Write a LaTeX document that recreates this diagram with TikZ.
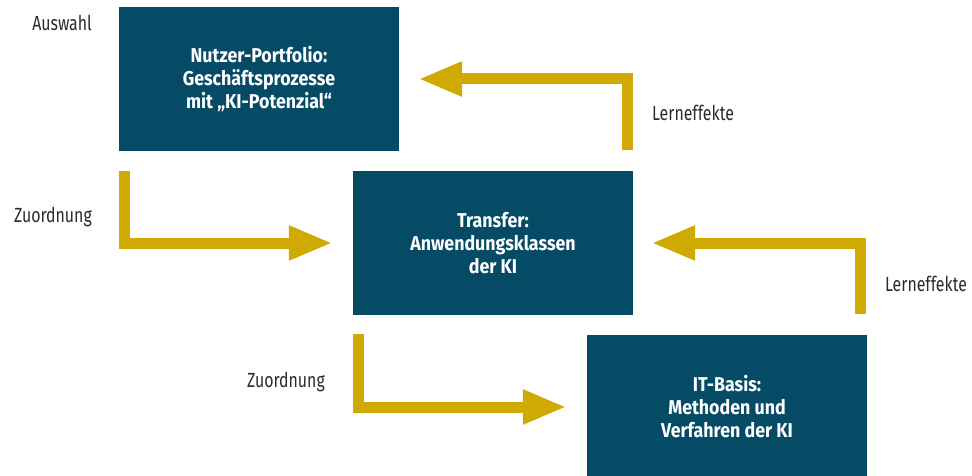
\documentclass[tikz,border=0pt]{standalone}
\usepackage{fontspec}
\setmainfont{Fira Sans}[FakeStretch=0.89]
\newfontfamily\lblfont{Fira Sans}[FakeStretch=0.775]
\usetikzlibrary{arrows.meta,calc}
\definecolor{boxblue}{HTML}{064B66}
\definecolor{gold}{HTML}{CFAA03}
\definecolor{labelgray}{HTML}{2B2B2B}
\tikzset{
  kbox/.style={fill=boxblue, text=white, minimum width=280pt, minimum height=144pt,
    inner sep=0pt, align=center, font=\fontsize{20pt}{23pt}\selectfont\bfseries},
  garrow/.style={draw=gold, line width=11pt, line join=miter,
    -{Triangle[length=44pt,width=32pt]}},
  lbl/.style={text=labelgray, inner sep=0pt, font=\lblfont\fontsize{20.5pt}{24pt}\selectfont}
}
\begin{document}
\begin{tikzpicture}[x=1pt,y=-1pt]
\useasboundingbox (0,0) rectangle (972,476);
\node[kbox] (b1) at (259,79) {Nutzer-Portfolio:\\Geschäftsprozesse\\mit „KI-Potenzial“};
\node[kbox] (b2) at (493,243) {Transfer:\\Anwendungsklassen\\der KI};
\node[kbox] (b3) at (727,407) {IT-Basis:\\Methoden und\\Verfahren der KI};

\coordinate (s1) at ($(b1.south west)+(5.5,20)$);
\coordinate (t1) at ($(b2.west)+(-20,0)$);
\coordinate (s2) at ($(b2.north east)+(-5.5,-21)$);
\coordinate (t2) at ($(b1.east)+(19,0)$);
\coordinate (s3) at ($(b3.north east)+(-6.5,-21)$);
\coordinate (t3) at ($(b2.east)+(18,0)$);
\coordinate (s4) at ($(b2.south west)+(5.5,19)$);
\coordinate (t4) at ($(b3.west)+(-20,0)$);

\draw[garrow] (s1) |- (t1);
\draw[garrow] (s2) |- (t2);
\draw[garrow] (s3) |- (t3);
\draw[garrow] (s4) |- (t4);

\node[lbl, anchor=base east] (l1) at (92,31) {Auswahl};
\node[lbl, anchor=base east] (l2) at (92,222) {Zuordnung};
\node[lbl, anchor=base west] (l3) at (652,121) {Lerneffekte};
\node[lbl, anchor=base west] (l4) at (885,291) {Lerneffekte};
\node[lbl, anchor=base east] (l5) at (325,387) {Zuordnung};
\end{tikzpicture}
\end{document}
